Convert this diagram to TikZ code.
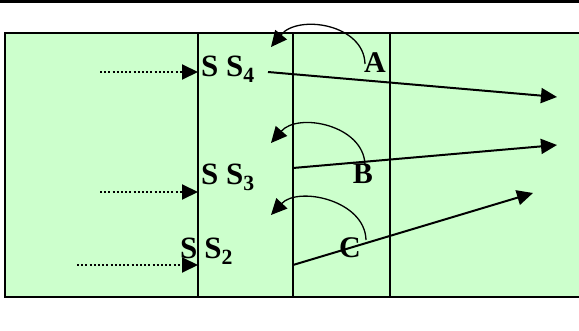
\documentclass[tikz,border=0pt]{standalone}
\usepackage{fontspec}
\setmainfont{Liberation Serif}
\usepackage{tikz}
\usetikzlibrary{arrows.meta}

\definecolor{panel}{HTML}{CCFFCC}

\begin{document}
\begin{tikzpicture}[
    x=1pt, y=-1pt,
    lbl/.style={font=\bfseries\fontsize{31}{33}\selectfont, inner sep=0pt, anchor=base west},
    tag/.style={font=\bfseries\fontsize{30}{32}\selectfont, inner sep=0pt, anchor=base},
    flow/.style={line width=2pt, -{Triangle[length=16pt,width=15pt]}},
    feed/.style={dash pattern=on 2pt off 2.2pt, line width=2pt, -{Triangle[length=16pt,width=15pt]}},
    turn/.style={line width=1.3pt, -{Triangle[length=16pt,width=15pt]}}
]
    \useasboundingbox (0,0) rectangle (579,331);

    % frame and columns
    \draw[line width=2.5pt] (0,1.3) -- (579,1.3);
    \draw[fill=panel, line width=1.2pt] (5,33) rectangle (584,297);
    \draw[line width=1.2pt] (198,33) -- (198,297);
    \draw[line width=1.2pt] (293,33) -- (293,297);
    \draw[line width=1.2pt] (390,33) -- (390,297);

    % labels
    \node[lbl] (s4) at (201,77) {S S\textsubscript{4}};
    \node[lbl] (s3) at (201,185) {S S\textsubscript{3}};
    \node[lbl] (s2) at (180,259) {S\hspace{7pt}S\textsubscript{2}};
    \node[tag] (a) at (375,73) {A};
    \node[tag] (b) at (363,184) {B};
    \node[tag] (c) at (350,258) {C};

    % incoming dotted arrows
    \coordinate (in4) at (100,72);
    \coordinate (in3) at (100,192);
    \coordinate (in2) at (77,265);
    \coordinate (w4) at (198,72);
    \coordinate (w3) at (198,192);
    \coordinate (w2) at (198,265);
    \draw[feed] (in4) -- (w4);
    \draw[feed] (in3) -- (w3);
    \draw[feed] (in2) -- (w2);

    % outgoing arrows
    \coordinate (o4) at (268,72);
    \coordinate (o3) at (293,168);
    \coordinate (o2) at (293,265);
    \coordinate (e4) at (557,97);
    \coordinate (e3) at (557,145);
    \coordinate (e2) at (533,193);
    \draw[flow] (o4) -- (e4);
    \draw[flow] (o3) -- (e3);
    \draw[flow] (o2) -- (e2);

    % turning arcs
    \coordinate (ta) at (365,64);
    \coordinate (tb) at (365,165);
    \coordinate (tc) at (366,240);
    \coordinate (ha) at (271,47);
    \coordinate (hb) at (271,143);
    \coordinate (hc) at (271,215);
    \draw[turn] (ta) .. controls (364,24) and (298,14) .. (ha);
    \draw[turn] (tb) .. controls (364,125) and (298,112) .. (hb);
    \draw[turn] (tc) .. controls (365,200) and (298,186) .. (hc);
\end{tikzpicture}
\end{document}
